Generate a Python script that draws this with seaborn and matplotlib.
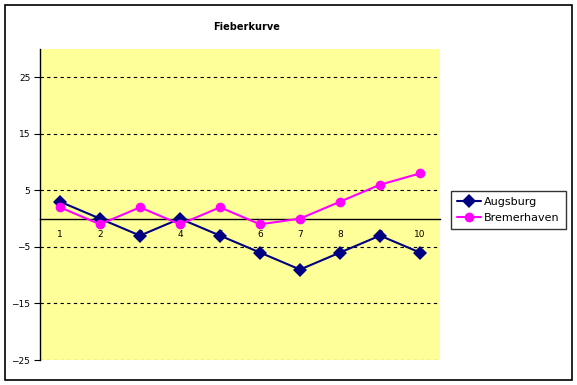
import pandas as pd
import seaborn as sns
import matplotlib.pyplot as plt
from matplotlib.patches import Rectangle

# chart data
tage = [1, 2, 3, 4, 5, 6, 7, 8, 9, 10]
augsburg = [3, 0, -3, 0, -3, -6, -9, -6, -3, -6]
bremerhaven = [2, -1, 2, -1, 2, -1, 0, 3, 6, 8]
y_ticks = [25, 15, 5, -5, -15, -25]

df = pd.DataFrame({'Tag': tage * 2,
                   'Wert': augsburg + bremerhaven,
                   'Stadt': ['Augsburg'] * 10 + ['Bremerhaven'] * 10})

sns.set_style('white')
plt.rcParams['font.family'] = ['DejaVu Sans']

fig = plt.figure(figsize=(5.77, 3.85), dpi=100)
fig.patches.append(Rectangle((5 / 577, 5 / 385), 567 / 577, 375 / 385, transform=fig.transFigure,
                             fill=False, edgecolor='black', linewidth=1.2))
ax = fig.add_axes([40 / 577, 25 / 385, 400 / 577, 311 / 385])
ax.set_facecolor('#FFFF99')

sns.lineplot(data=df, x='Tag', y='Wert', hue='Stadt', style='Stadt',
             palette={'Augsburg': '#000080', 'Bremerhaven': '#FF00FF'},
             markers={'Augsburg': 'D', 'Bremerhaven': 'o'}, dashes=False,
             markersize=7, markeredgewidth=0, linewidth=1.5, ax=ax,
             zorder=3, clip_on=False)

ax.set_xlim(0.5, 10.5)
ax.set_ylim(-25, 30)
ax.set_yticks(y_ticks)
ax.set_xticks(tage)
ax.set_xticklabels([str(t) for t in tage])
for y in y_ticks:
    ax.axhline(y, color='black', linestyle=(0, (3, 3)), linewidth=0.8, zorder=1)

ax.spines['top'].set_visible(False)
ax.spines['right'].set_visible(False)
ax.spines['bottom'].set_position(('data', 0))
for side in ['bottom', 'left']:
    ax.spines[side].set_linewidth(1)
    ax.spines[side].set_color('black')
ax.tick_params(axis='y', direction='out', length=4, labelsize=6.5, left=True, pad=3,
               color='black', labelcolor='black')
ax.tick_params(axis='x', direction='inout', length=0, labelsize=6.5, pad=8,
               labelcolor='black')
ax.set_xlabel('')
ax.set_ylabel('')

fig.text(247 / 577, 1 - 27 / 385, 'Fieberkurve', ha='center', va='center',
         fontsize=7, fontweight='bold', color='black')

leg = ax.legend(title=None, loc='center left', bbox_to_anchor=(451 / 577, 1 - 210 / 385),
                bbox_transform=fig.transFigure, frameon=True, fancybox=False,
                edgecolor='black', fontsize=8, handlelength=2.2, borderpad=0.5,
                labelspacing=0.6, handletextpad=0.3, borderaxespad=0)
leg.get_frame().set_linewidth(1)
for t in leg.get_texts():
    t.set_color('black')

fig.savefig('out.png', dpi=100)
